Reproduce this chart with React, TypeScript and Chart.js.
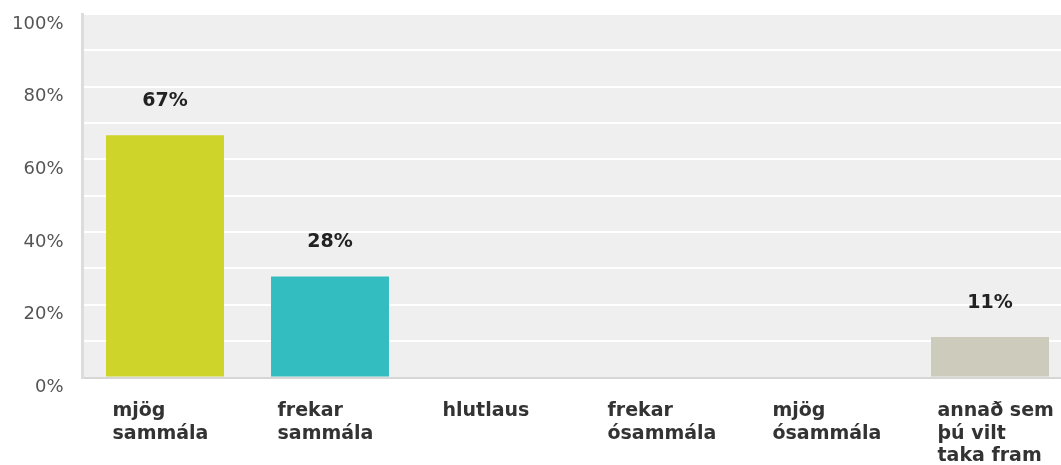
import React, { useEffect, useRef } from "react";
import { Chart, registerables } from "chart.js";

Chart.register(...registerables);

const categories: string[][] = [
  ["mjög", "sammála"],
  ["frekar", "sammála"],
  ["hlutlaus"],
  ["frekar", "ósammála"],
  ["mjög", "ósammála"],
  ["annað sem", "þú vilt", "taka fram"],
];
const values: number[] = [66.67, 27.78, 0, 0, 0, 11.11];
const barColors: string[] = ["#cfd42a", "#34bdc0", "#cdcbbb", "#cdcbbb", "#cdcbbb", "#cdcbbb"];
const yMin = 0;
const yMax = 100;
const yStep = 10;
const yLabelEvery = 20;

const FONT = "'DejaVu Sans', Verdana, sans-serif";

export default function App() {
  const ref = useRef<HTMLCanvasElement | null>(null);

  useEffect(() => {
    if (!ref.current) return;
    const bgPlugin = {
      id: "plotBg",
      beforeDraw(chart: any) {
        const { ctx, chartArea } = chart;
        ctx.save();
        ctx.fillStyle = "#efefef";
        ctx.fillRect(chartArea.left, chartArea.top, chartArea.right - chartArea.left, chartArea.bottom - chartArea.top);
        ctx.restore();
      },
    };
    const labelPlugin = {
      id: "valueLabels",
      afterDatasetsDraw(chart: any) {
        const { ctx } = chart;
        const meta = chart.getDatasetMeta(0);
        ctx.save();
        ctx.font = `bold 19px ${FONT}`;
        ctx.fillStyle = "#222222";
        ctx.textAlign = "center";
        ctx.textBaseline = "middle";
        meta.data.forEach((bar: any, i: number) => {
          if (values[i] > 0) {
            ctx.fillText(Math.round(values[i]) + "%", bar.x, bar.y - 34);
          }
        });
        ctx.restore();
      },
    };

    const chart = new Chart(ref.current, {
      type: "bar",
      data: {
        labels: categories,
        datasets: [
          {
            data: values,
            backgroundColor: barColors,
            borderWidth: 0,
            barPercentage: 1,
            categoryPercentage: 0.715,
          },
        ],
      },
      options: {
        animation: false,
        responsive: false,
        maintainAspectRatio: false,
        layout: { padding: { left: 0, top: 14, right: 100.5, bottom: 0 } },
        plugins: {
          legend: { display: false },
          tooltip: { enabled: false },
        },
        scales: {
          x: {
            offset: true,
            grid: { display: false, drawTicks: false },
            border: { display: true, color: "#d6d6d6", width: 2 },
            ticks: {
              align: "start",
              labelOffset: -52.5,
              padding: 22,
              maxRotation: 0,
              minRotation: 0,
              autoSkip: false,
              color: "#333333",
              font: { family: FONT, size: 19, weight: "bold", lineHeight: 1.2 },
            },
            afterFit: (scale: any) => {
              scale.height = 87.5;
              scale.paddingLeft = 0;
              scale.paddingRight = 0;
            },
          },
          y: {
            min: yMin,
            max: yMax,
            grid: {
              color: (c: any) => (c.tick && c.tick.value === 0 ? "rgba(0,0,0,0)" : "#ffffff"),
              lineWidth: 2,
              drawTicks: false,
            },
            border: { display: true, color: "#dcdcdc", width: 3 },
            ticks: {
              stepSize: yStep,
              padding: 19,
              labelOffset: 10,
              color: "#555555",
              font: { family: FONT, size: 18 },
              callback: (v: any) => (Number(v) % yLabelEvery === 0 ? v + "%" : ""),
            },
            afterFit: (scale: any) => {
              scale.width = 82.5;
              scale.paddingTop = 0;
              scale.paddingBottom = 0;
            },
          },
        },
      },
      plugins: [bgPlugin, labelPlugin],
    } as any);
    return () => chart.destroy();
  }, []);

  return (
    <div style={{ position: "absolute", left: 0, top: 0, width: 1061, height: 465, overflow: "hidden", background: "#fff" }}>
      <canvas ref={ref} width={1173} height={465} style={{ display: "block" }} />
    </div>
  );
}
